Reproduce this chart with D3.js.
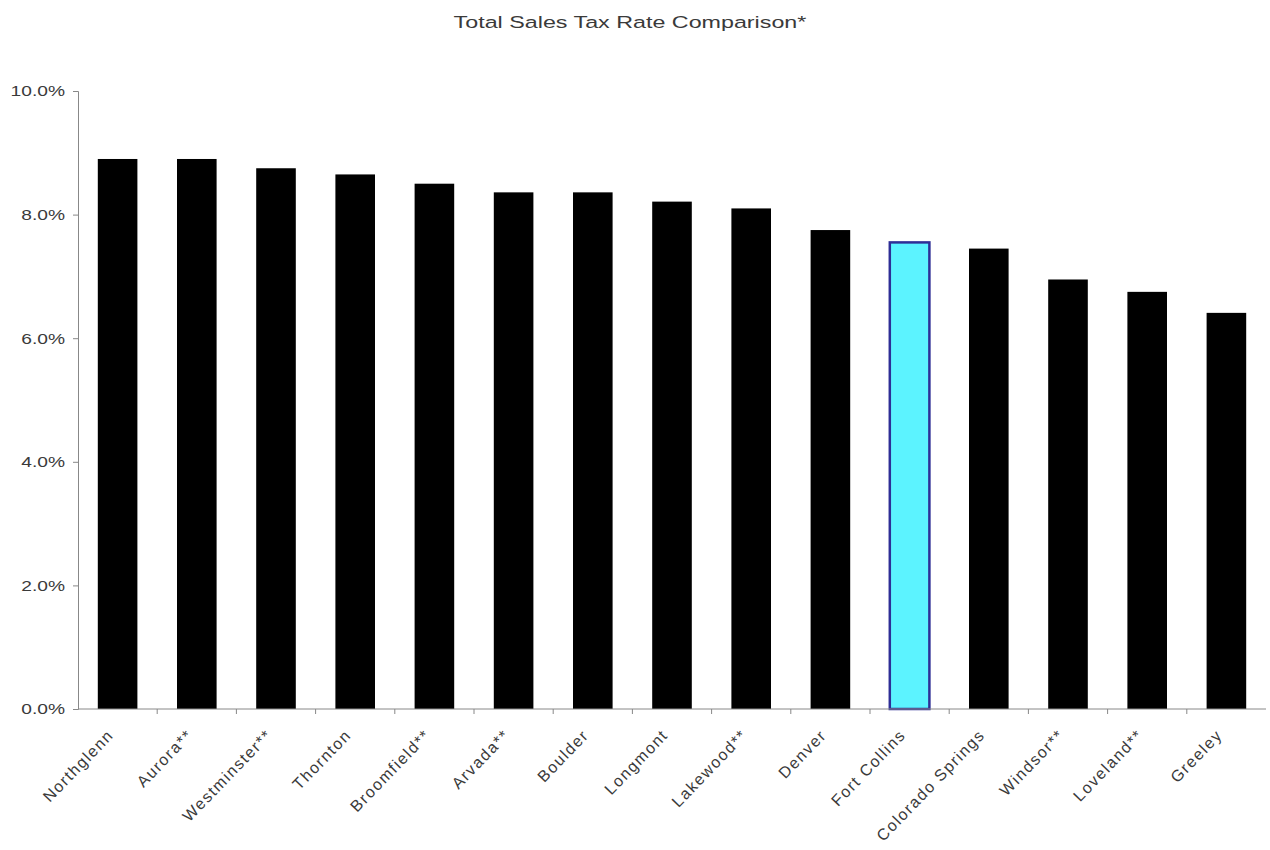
<!DOCTYPE html>
<html>
<head>
<meta charset="utf-8">
<script src="https://cdn.jsdelivr.net/npm/d3@7"></script>
<style>
  html, body { margin: 0; padding: 0; background: #fff; }
  svg text { font-family: "Liberation Sans", Arial, sans-serif; }
</style>
</head>
<body>
<svg id="chart" width="1270" height="850"></svg>
<script>
// Cities compared, in chart order
const cities = [
  "Northglenn", "Aurora**", "Westminster**", "Thornton", "Broomfield**",
  "Arvada**", "Boulder", "Longmont", "Lakewood**", "Denver",
  "Fort Collins", "Colorado Springs", "Windsor**", "Loveland**", "Greeley"
];
// Total sales tax rate, percent
const rates = [8.9, 8.9, 8.75, 8.65, 8.5, 8.36, 8.36, 8.21, 8.1, 7.75, 7.55, 7.45, 6.95, 6.75, 6.41];
const highlightCity = "Fort Collins";
const yTicks = [0, 2, 4, 6, 8, 10];

const svg = d3.select("#chart");
const margin = { left: 78, right: 4, top: 91, bottom: 141 };
const W = 1270, H = 850;
const textColor = "#3a3a3a";

const x = d3.scaleBand()
  .domain(cities)
  .range([margin.left, W - margin.right])
  .paddingInner(0.5)
  .paddingOuter(0.25);

const y = d3.scaleLinear()
  .domain([0, 10])
  .range([H - margin.bottom, margin.top]);

// Title (wide face, stretched horizontally)
const titleScale = 1.37;
svg.append("text")
  .attr("transform", `translate(630,28) scale(${titleScale},1)`)
  .attr("text-anchor", "middle")
  .attr("font-size", 17)
  .attr("fill", textColor)
  .text("Total Sales Tax Rate Comparison*");

// Bars
const data = cities.map((c, i) => ({ city: c, rate: rates[i] }));
svg.append("g").selectAll("rect")
  .data(data)
  .join("rect")
  .attr("x", d => x(d.city))
  .attr("y", d => y(d.rate))
  .attr("width", x.bandwidth())
  .attr("height", d => y(0) - y(d.rate))
  .attr("fill", d => d.city === highlightCity ? "#5cf3ff" : "#000")
  .attr("stroke", d => d.city === highlightCity ? "#2e2e96" : "none")
  .attr("stroke-width", 2.5);

// Y axis
const tickScale = 1.28;
const yAxis = d3.axisLeft(y)
  .tickValues(yTicks)
  .tickSize(5)
  .tickFormat(d => d3.format(".1f")(d) + "%");
const gy = svg.append("g")
  .attr("transform", `translate(${margin.left},0)`)
  .call(yAxis);
gy.select(".domain").attr("stroke", "#888");
gy.selectAll(".tick line").attr("stroke", "#888");
gy.selectAll(".tick text")
  .attr("font-size", 15)
  .attr("fill", textColor)
  .attr("x", -13 / tickScale)
  .attr("transform", `scale(${tickScale},1)`)
  .attr("font-family", "Liberation Sans, Arial, sans-serif");

// X axis: baseline with ticks between categories
const gap = x.step() - x.bandwidth();
const gx = svg.append("g");
gx.append("line")
  .attr("x1", margin.left).attr("x2", W - margin.right)
  .attr("y1", y(0)).attr("y2", y(0))
  .attr("stroke", "#888");
gx.selectAll(".sep")
  .data(cities.slice(1))
  .join("line")
  .attr("class", "sep")
  .attr("x1", d => x(d) - gap / 2)
  .attr("x2", d => x(d) - gap / 2)
  .attr("y1", y(0)).attr("y2", y(0) + 5)
  .attr("stroke", "#888");

// Rotated category labels
gx.selectAll(".lbl")
  .data(cities)
  .join("text")
  .attr("class", "lbl")
  .attr("text-anchor", "end")
  .attr("font-size", 16)
  .attr("letter-spacing", 1.5)
  .attr("fill", textColor)
  .attr("transform", d => {
    const cx = x(d) + x.bandwidth() / 2 - 3;
    return `translate(${cx},${y(0) + 27}) rotate(-46)`;
  })
  .text(d => d);
</script>
</body>
</html>
